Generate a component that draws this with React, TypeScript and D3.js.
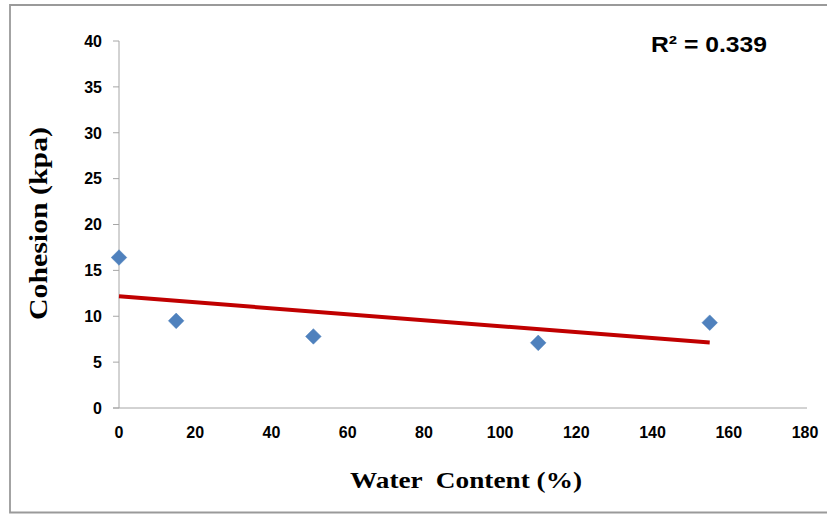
import React from "react";
import * as d3 from "d3";

const waterContent: number[] = [0, 15, 51, 110, 155];
const cohesion: number[] = [16.4, 9.5, 7.8, 7.1, 9.3];
const xTicks: number[] = [0, 20, 40, 60, 80, 100, 120, 140, 160, 180];
const yTicks: number[] = [0, 5, 10, 15, 20, 25, 30, 35, 40];
const r2Label = "R\u00B2 = 0.339";
const xTitle = "Water  Content (%)";
const yTitle = "Cohesion (kpa)";

const W = 827;
const H = 514;

export default function App() {
  const x = d3.scaleLinear().domain([0, 180]).range([119, 805]);
  const y = d3.scaleLinear().domain([0, 40]).range([408, 41]);

  // least-squares trend line
  const mx = d3.mean(waterContent)!;
  const my = d3.mean(cohesion)!;
  let sxy = 0, sxx = 0;
  waterContent.forEach((v, i) => {
    sxy += (v - mx) * (cohesion[i] - my);
    sxx += (v - mx) * (v - mx);
  });
  const slope = sxy / sxx;
  const intercept = my - slope * mx;
  const x0 = d3.min(waterContent)!;
  const x1 = d3.max(waterContent)!;
  const trend = d3.line<number>().x((d) => x(d)).y((d) => y(intercept + slope * d))([x0, x1]);

  const diamond = d3.symbol().type(d3.symbolDiamond2).size(155)();
  const axisColor = "#A6A6A6";
  const tickFont = "'Liberation Sans', Arial, sans-serif";
  const serif = "'Liberation Serif', 'Times New Roman', serif";

  return (
    <svg width={W} height={H} style={{ position: "absolute", left: 0, top: 0, background: "#fff" }}>
      {/* chart frame */}
      <path d={`M${W + 2},5 H10 V512.5 H${W + 2}`} fill="none" stroke="#9A9A9A" strokeWidth={1.8} />

      {/* y axis */}
      <line x1={x(0)} x2={x(0)} y1={y(40)} y2={y(0)} stroke={axisColor} strokeWidth={1} />
      {yTicks.map((t) => (
        <g key={"yt" + t}>
          <line x1={x(0) - 6} x2={x(0)} y1={y(t)} y2={y(t)} stroke={axisColor} strokeWidth={1} />
          <text
            x={102}
            y={y(t)}
            dy="0.36em"
            textAnchor="end"
            fontFamily={tickFont}
            fontWeight="bold"
            fontSize={16}
            fill="#000"
          >
            {t}
          </text>
        </g>
      ))}

      {/* x axis */}
      <line x1={x(0) - 6} x2={x(180) + 2} y1={y(0)} y2={y(0)} stroke={axisColor} strokeWidth={1} />
      {xTicks.map((t) => (
        <text
          key={"xt" + t}
          x={x(t)}
          y={437.5}
          textAnchor="middle"
          fontFamily={tickFont}
          fontWeight="bold"
          fontSize={16}
          fill="#000"
        >
          {t}
        </text>
      ))}

      {/* trend line */}
      <path d={trend!} fill="none" stroke="#C00000" strokeWidth={4} />

      {/* points */}
      {waterContent.map((v, i) => (
        <path
          key={"p" + i}
          d={diamond!}
          transform={`translate(${x(v)},${y(cohesion[i])})`}
          fill="#4F81BD"
          stroke="#4A7EBB"
          strokeWidth={0.5}
        />
      ))}

      {/* R² label */}
      <text
        x={651}
        y={52}
        fontFamily={tickFont}
        fontWeight="bold"
        fontSize={22}
        textLength={116}
        lengthAdjust="spacingAndGlyphs"
        fill="#000"
      >
        {r2Label}
      </text>

      {/* axis titles */}
      <text
        x={350}
        y={488}
        fontFamily={serif}
        fontWeight="bold"
        fontSize={24}
        textLength={232}
        lengthAdjust="spacingAndGlyphs"
        fill="#000"
        style={{ whiteSpace: "pre" }}
      >
        {xTitle}
      </text>
      <text
        transform={`translate(47,320) rotate(-90)`}
        x={0}
        y={0}
        fontFamily={serif}
        fontWeight="bold"
        fontSize={25}
        textLength={193}
        lengthAdjust="spacingAndGlyphs"
        fill="#000"
      >
        {yTitle}
      </text>
    </svg>
  );
}
